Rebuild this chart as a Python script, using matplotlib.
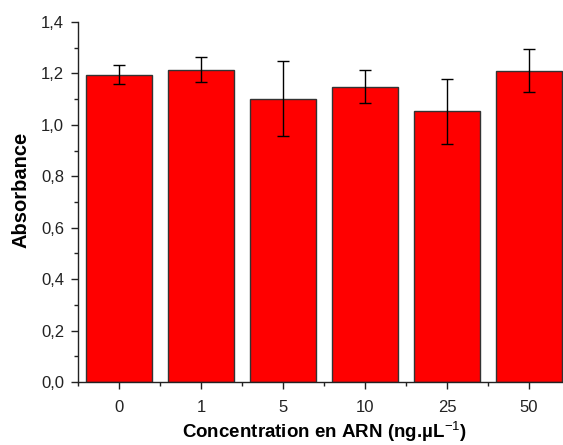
import matplotlib
matplotlib.use("Agg")
import matplotlib.pyplot as plt
from matplotlib.ticker import MultipleLocator, FuncFormatter

categories = ["0", "1", "5", "10", "25", "50"]
values = [1.195, 1.215, 1.102, 1.149, 1.052, 1.211]
errors = [0.038, 0.050, 0.147, 0.066, 0.125, 0.085]

plt.rcParams['font.family'] = ['Liberation Sans', 'DejaVu Sans']
plt.rcParams['mathtext.fontset'] = 'custom'
plt.rcParams['mathtext.rm'] = 'Liberation Sans'
plt.rcParams['mathtext.bf'] = 'Liberation Sans:bold'

fig = plt.figure(figsize=(5.63, 4.45), dpi=100)
ax = fig.add_axes([0.1385, 0.1416, 0.874, 0.809])

x = list(range(len(categories)))
ax.bar(x, values, width=0.8, color="#ff0000", edgecolor="#333333", linewidth=1.0,
       yerr=errors, capsize=4, error_kw=dict(ecolor="black", elinewidth=1.0, capthick=1.0))

ax.set_xlim(-0.5, 5.5)
ax.set_ylim(0, 1.4)
ax.set_xticks(x)
ax.set_xticklabels(categories)
ax.xaxis.set_minor_locator(MultipleLocator(1.0, offset=0.5))
ax.yaxis.set_major_locator(MultipleLocator(0.2))
ax.yaxis.set_minor_locator(MultipleLocator(0.1))
ax.yaxis.set_major_formatter(FuncFormatter(lambda v, p: f"{v:.1f}".replace(".", ",")))

for s in ["top", "right"]:
    ax.spines[s].set_visible(False)
for s in ["left", "bottom"]:
    ax.spines[s].set_linewidth(1.0)
    ax.spines[s].set_color("#222222")

ax.tick_params(axis="both", which="major", direction="out", length=5, width=1, labelsize=12, colors="#222222")
ax.tick_params(axis="both", which="minor", direction="out", length=3, width=1, colors="#222222")
ax.tick_params(axis="x", pad=8)
ax.tick_params(axis="y", pad=5)

ax.set_xlabel("Concentration en ARN (ng.\u00b5L$^{\\mathrm{-1}}$)", fontsize=13.5, fontweight="bold")
ax.xaxis.label.set_va("baseline")
ax.xaxis.set_label_coords(0.5, -0.156)
ax.set_ylabel("Absorbance", fontsize=14.5, fontweight="bold")
ax.yaxis.label.set_va("baseline")
ax.yaxis.set_label_coords(-0.104, 0.533)

fig.savefig("out.png", dpi=100)
